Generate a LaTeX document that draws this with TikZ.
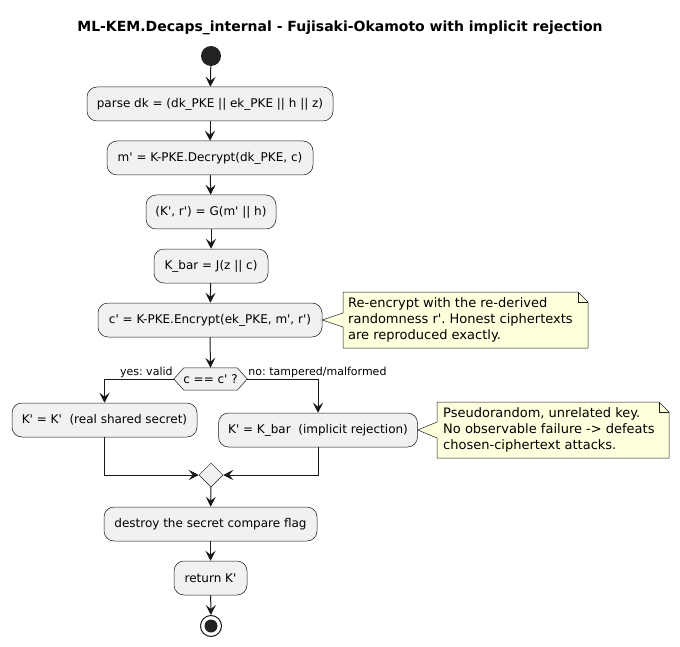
\documentclass[tikz,border=0pt]{standalone}
\usepackage{fontspec}
\setmainfont{DejaVu Sans}[Ligatures=TeXOff]
\frenchspacing
\usetikzlibrary{shapes.geometric,arrows.meta,calc}
\definecolor{boxfill}{HTML}{F1F1F1}
\definecolor{edgec}{HTML}{181818}
\definecolor{notefill}{HTML}{FEFFDD}
\definecolor{dotc}{HTML}{222222}
\begin{document}
\frenchspacing
\begin{tikzpicture}[x=1pt,y=-1pt,
  act/.style={draw=edgec, fill=boxfill, line width=0.5pt, rounded corners=10pt,
    minimum height=34pt, inner sep=0pt, font=\fontsize{12}{14}\selectfont},
  flow/.style={draw=edgec, line width=1pt, -{Stealth[length=10pt,width=10pt,inset=4pt]}},
  notebox/.style={draw=edgec, fill=notefill, line width=0.5pt},
  notetext/.style={align=left, inner sep=0pt, font=\fontsize{13}{16}\selectfont},
  branchlbl/.style={inner sep=1pt, font=\fontsize{11}{13}\selectfont}
]
\useasboundingbox (0,0) rectangle (680,647);

\node[font=\bfseries\fontsize{14}{16}\selectfont] (title) at (340,28)
  {ML-KEM.Decaps\_internal - Fujisaki-Okamoto with implicit rejection};

\node[circle, fill=dotc, minimum size=20pt, inner sep=0pt] (start) at (211,56) {};

\node[act, minimum width=246pt] (b1) at (210,104) {parse dk = (dk\_PKE || ek\_PKE || h || z)};
\node[act, minimum width=206pt] (b2) at (210,158) {m' = K-PKE.Decrypt(dk\_PKE, c)};
\node[act, minimum width=130pt] (b3) at (211,212) {(K', r') = G(m' || h)};
\node[act, minimum width=114pt] (b4) at (211,266) {K\_bar = J(z || c)};
\node[act, minimum width=224pt] (b5) at (210,320) {c' = K-PKE.Encrypt(ek\_PKE, m', r')};

\node[minimum width=73pt, minimum height=22pt, inner sep=0pt, font=\fontsize{12}{14}\selectfont] (dec) at (210.5,379) {};
\draw[draw=edgec, fill=boxfill, line width=0.5pt]
  (dec.west) -- ($(dec.north west)+(10,0)$) -- ($(dec.north east)+(-10,0)$) -- (dec.east)
  -- ($(dec.south east)+(-10,0)$) -- ($(dec.south west)+(10,0)$) -- cycle;
\node[font=\fontsize{12}{14}\selectfont] (dectext) at (dec.center) {c == c' ?};

\node[act, minimum width=185pt] (b6) at (104.5,420) {K' = K'\ \ (real shared secret)};
\node[act, minimum width=199pt] (b7) at (318,430) {K' = K\_bar\ \ (implicit rejection)};

\node[diamond, draw=edgec, fill=boxfill, line width=0.5pt, minimum size=24pt, inner sep=0pt] (merge) at (211,475) {};

\node[act, minimum width=213pt] (b8) at (210.5,524) {destroy the secret compare flag};
\node[act, minimum width=73pt] (b9) at (210.5,578) {return K'};

\node[circle, draw=edgec, line width=1pt, fill=white, minimum size=21pt, inner sep=0pt] (stop) at (211,626) {};
\fill[dotc] (stop.center) circle (6.5pt);

% notes
\draw[notebox] (343,292) -- (578,292) -- (588,302) -- (588,348) -- (343,348) -- (343,327)
  -- (b5.east) -- (343,313) -- cycle;
\draw[draw=edgec, line width=0.5pt] (578,292) -- (578,302) -- (588,302);
\node[notetext, anchor=west] (n1) at (348,320)
  {Re-encrypt with the re-derived\\randomness r'. Honest ciphertexts\\are reproduced exactly.};

\draw[notebox] (437,402) -- (659,402) -- (669,412) -- (669,458) -- (437,458) -- (437,438)
  -- (b7.east) -- (437,422) -- cycle;
\draw[draw=edgec, line width=0.5pt] (659,402) -- (659,412) -- (669,412);
\node[notetext, anchor=west] (n2) at (443,430)
  {Pseudorandom, unrelated key.\\No observable failure -> defeats\\chosen-ciphertext attacks.};

% flow
\draw[flow] (start) -- (b1);
\draw[flow] (b1) -- (b2);
\draw[flow] (b2) -- (b3);
\draw[flow] (b3) -- (b4);
\draw[flow] (b4) -- (b5);
\draw[flow] (b5.south) -- (dec.north);
\draw[flow] (dec.west) -| (b6.north);
\draw[flow] (dec.east) -| (b7.north);
\node[branchlbl, anchor=south east] (ly) at (dec.west) {yes: valid};
\node[branchlbl, anchor=south west] (ln) at (dec.east) {no: tampered/malformed};
\draw[flow] (b6.south) |- (merge.west);
\draw[flow] (b7.south) |- (merge.east);
\draw[flow] (merge) -- (b8);
\draw[flow] (b8) -- (b9);
\draw[flow] (b9) -- (stop);
\end{tikzpicture}
\end{document}
